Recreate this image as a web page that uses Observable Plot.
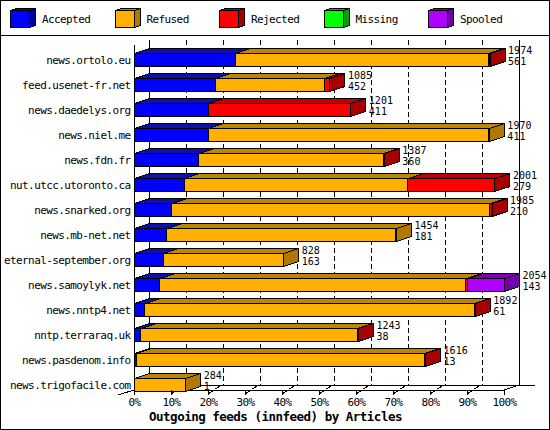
<!DOCTYPE html>
<html><head><meta charset="utf-8">
<script src="https://cdn.jsdelivr.net/npm/d3@7"></script>
<script src="https://cdn.jsdelivr.net/npm/@observablehq/plot@0.6"></script>
<style>
body{margin:0;background:#fff;}
#frame{position:relative;width:550px;height:430px;border:1px solid #000;box-sizing:border-box;overflow:hidden;background:#fff;font-family:"DejaVu Sans Mono",monospace;}
#legend{position:relative;height:34px;border-bottom:1px solid #000;}
.item{position:absolute;top:0;height:34px;width:100px;}
.item svg{position:absolute;left:0;top:7px;overflow:visible;}
.item span{position:absolute;left:32px;top:13px;font-size:11px;letter-spacing:-0.6px;line-height:12px;white-space:nowrap;color:#000;}
#chart svg{display:block;}
#chart svg text{letter-spacing:-0.6px;}
#chart svg text.val{letter-spacing:0px;}
#chart svg text.ttl{letter-spacing:-0.5px;}
</style>
</head><body>
<div id="frame"><div id="legend"></div><div id="chart"></div></div>
<script>
const hosts = ["news.ortolo.eu","feed.usenet-fr.net","news.daedelys.org","news.niel.me","news.fdn.fr","nut.utcc.utoronto.ca","news.snarked.org","news.mb-net.net","eternal-september.org","news.samoylyk.net","news.nntp4.net","nntp.terraraq.uk","news.pasdenom.info","news.trigofacile.com"];
const offered  = [1974,1085,1201,1970,1387,2001,1985,1454,828,2054,1892,1243,1616,284];
const accepted = [561,452,411,411,360,279,210,181,163,143,61,38,13,1];
const refused  = [1405,605,0,1559,1024,1242,1765,1273,665,1700,1828,1202,1600,283];
const rejected = [8,28,790,0,3,480,10,0,0,11,3,3,3,0];
const missing  = [0,0,0,0,0,0,0,0,0,0,0,0,0,0];
const spooled  = [0,0,0,0,0,0,0,0,0,200,0,0,0,0];
const categories = ["Accepted","Refused","Rejected","Missing","Spooled"];
const pctTicks  = [0,10,20,30,40,50,60,70,80,90,100];
const pctLabels = ["0%","10%","20%","30%","40%","50%","60%","70%","80%","90%","100%"];
const titleText = "Outgoing feeds (innfeed) by Articles";

const frontColors = ["#0000ff","#ffb000","#ff0000","#00ff00","#b000ff"];
const topColors   = ["#1010a8","#bc8600","#c00000","#00b800","#8000b8"];
const sideColors  = ["#0000a0","#b07800","#a80000","#00a000","#7000a8"];
const DX = 15, DY = 5;

const series = [accepted, refused, rejected, missing, spooled];
const maxOffered = d3.max(offered);
const tickVals = pctTicks.map(p => p * maxOffered / 100);
const rows = hosts.map((h, i) => ({host: h, offered: offered[i], accepted: accepted[i]}));
const long = hosts.flatMap((h, i) => categories.map((c, k) => ({host: h, cat: c, value: series[k][i]}))).filter(d => d.value > 0);

// legend
const legend = d3.select("#legend");
categories.forEach((c, k) => {
  const it = legend.append("div").attr("class", "item").style("left", (9 + k * 104.5) + "px");
  const s = it.append("svg").attr("width", 28).attr("height", 22).attr("shape-rendering", "crispEdges");
  s.append("path").attr("d", "M0.5,2.5L6.5,0.5L25.5,0.5L19.5,2.5Z").attr("fill", topColors[k]).attr("stroke", "#000");
  s.append("path").attr("d", "M19.5,2.5L25.5,0.5L25.5,17.5L19.5,19.5Z").attr("fill", sideColors[k]).attr("stroke", "#000");
  s.append("rect").attr("x", 0.5).attr("y", 2.5).attr("width", 19).attr("height", 17).attr("fill", frontColors[k]).attr("stroke", "#000");
  it.append("span").text(c);
});

function floorMark(index, scales, values, dims) {
  const x = scales.x;
  const yb = dims.height - dims.marginBottom;
  const x0 = x(0), x1 = x(maxOffered);
  const g = d3.create("svg:g").attr("stroke", "#000").attr("fill", "none").attr("shape-rendering", "crispEdges");
  g.append("path").attr("d", `M${x0 + DX},${yb - DY + 0.5}L${x1 + DX + 16},${yb - DY + 0.5}`);
  g.append("path").attr("d", `M${x0 - 16},${yb + 5}L${x0},${yb}`);
  g.append("path").attr("d", `M${x1},${yb}L${x1 + DX},${yb - DY}`);
  tickVals.slice(1, -1).forEach(v => {
    const X = x(v);
    g.append("path").attr("d", `M${X},${yb + 4}L${X + 12},${yb - 4}`).attr("stroke-dasharray", "6,3");
  });
  g.append("path").attr("d", `M${x0},${yb + 0.5}L${x1},${yb + 0.5}`);
  return g.node();
}

function facesMark(index, scales, values, dims) {
  const x = scales.x, y = scales.y;
  const bw = y.bandwidth ? y.bandwidth() : scales.scales.y.bandwidth;
  const g = d3.create("svg:g").attr("stroke", "#000").attr("shape-rendering", "crispEdges");
  hosts.forEach((h, i) => {
    const y0 = y(h) + 0.5, y1 = y0 + bw;
    let cum = 0, lastK = -1, lastX = x(0);
    series.forEach((s, k) => {
      const v = s[i]; if (!v) return;
      const xa = x(cum) + 0.5, xb = x(cum + v) + 0.5; cum += v;
      g.append("path").attr("fill", topColors[k])
        .attr("d", `M${xa},${y0}L${xa + DX},${y0 - DY}L${xb + DX},${y0 - DY}L${xb},${y0}Z`);
      lastK = k; lastX = xb;
    });
    g.append("path").attr("fill", sideColors[lastK])
      .attr("d", `M${lastX},${y0}L${lastX + DX},${y0 - DY}L${lastX + DX},${y1 - DY}L${lastX},${y1}Z`);
  });
  return g.node();
}

const chart = Plot.plot({
  width: 548, height: 393,
  marginLeft: 133, marginRight: 45, marginTop: 9, marginBottom: 39,
  style: {fontFamily: "DejaVu Sans Mono", fontSize: "11px", color: "#000", background: "#fff", overflow: "visible"},
  x: {domain: [0, maxOffered]},
  y: {type: "band", domain: hosts, range: [11, 361], paddingInner: 0.48, paddingOuter: 0.24},
  color: {domain: categories, range: frontColors},
  marks: [
    Plot.ruleX(tickVals.slice(1, -1), {dx: DX, dy: -DY, strokeDasharray: "5,3", shapeRendering: "crispEdges"}),
    Plot.ruleX([0, maxOffered], {dx: DX, dy: -DY, shapeRendering: "crispEdges"}),
    Plot.ruleX([0], {shapeRendering: "crispEdges"}),
    floorMark,
    Plot.barX(long, {x: "value", y: "host", fill: "cat", stroke: "#000", strokeWidth: 1, shapeRendering: "crispEdges"}),
    facesMark,
    Plot.text(rows, {x: "offered", y: "host", text: d => String(d.offered), dx: 18, dy: -9.5, textAnchor: "start", fontSize: 10}),
    Plot.text(rows, {x: "offered", y: "host", text: d => String(d.accepted), dx: 18, dy: 1.5, textAnchor: "start", fontSize: 10}),
    Plot.axisY({tickSize: 0, tickPadding: 4, label: null, fontSize: 11}),
    Plot.axisX(tickVals, {tickSize: 5, tickPadding: 3, label: null, fontSize: 11, tickFormat: (d, i) => pctLabels[tickVals.indexOf(d)]}),
    Plot.text([titleText], {frameAnchor: "bottom", lineAnchor: "middle", dy: 26.5, dx: -44, text: d => d, fontWeight: "bold", fontSize: 12.5})
  ]
});
d3.select(chart).selectAll("text").each(function() {
  const t = d3.select(this).text();
  if (t === titleText) d3.select(this).attr("class", "ttl");
  else if (/^\d+$/.test(t)) d3.select(this).attr("class", "val");
});
document.getElementById("chart").appendChild(chart);
</script>
</body></html>
